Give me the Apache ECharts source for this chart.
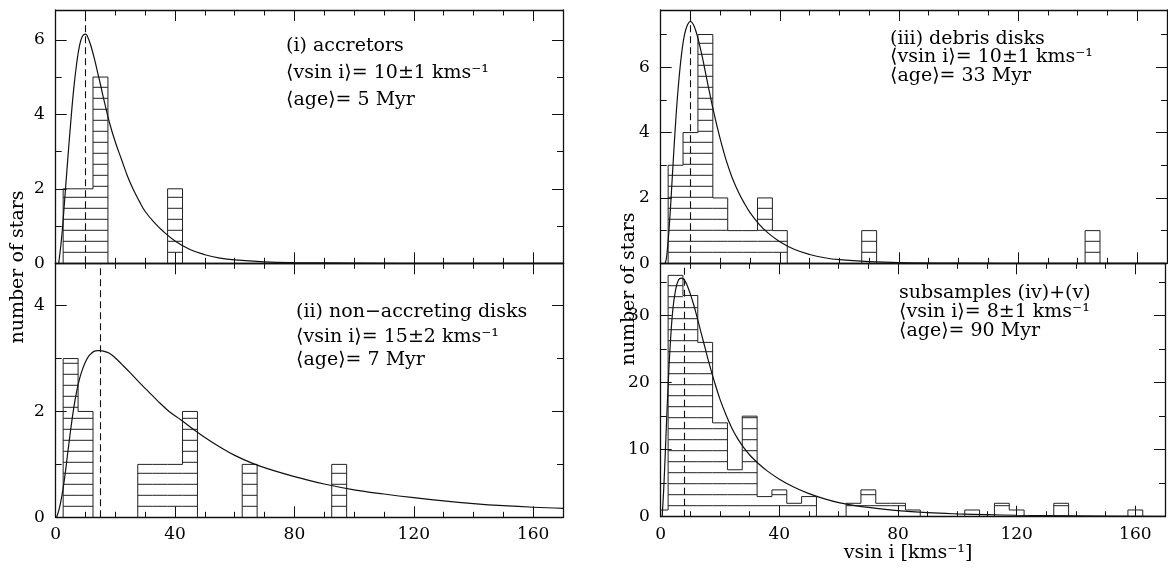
<!DOCTYPE html>
<html>
<head>
<meta charset="utf-8">
<script src="https://cdn.jsdelivr.net/npm/echarts@6/dist/echarts.min.js"></script>
<style>
  html, body { margin: 0; padding: 0; background: #fff; }
  #chart { width: 1168px; height: 569px; }
</style>
</head>
<body>
<div id="chart"></div>
<script>
// Histogram bins (bin centres, km/s) and star counts per bin
const BIN_WIDTH = 5;

const accretorBins = [5, 10, 15, 40];
const accretorCounts = [2, 2, 5, 2];

const nonAccretingBins = [5, 10, 30, 35, 40, 45, 65, 95];
const nonAccretingCounts = [3, 2, 1, 1, 1, 2, 1, 1];

const debrisBins = [5, 10, 15, 20, 25, 30, 35, 40, 70, 145];
const debrisCounts = [3, 4, 7, 2, 1, 1, 2, 1, 1, 1];

const subsampleBins = [0, 5, 10, 15, 20, 25, 30, 35, 40, 45, 50, 65, 70, 75, 80, 85, 105, 115, 120, 135, 160];
const subsampleCounts = [1, 36, 33, 26, 14, 7, 15, 3, 4, 2, 3, 2, 4, 2, 2, 1, 1, 2, 1, 2, 1];

// Fitted distributions: vsin i and expected number of stars
const accretorFitX = [1, 2, 3, 4, 5, 6, 7, 8, 9, 10, 11, 12, 13, 14, 15, 16, 18, 20, 22, 24, 26, 28, 30, 33, 36, 40, 45, 50, 55, 60, 70, 80, 100, 130, 170];
const accretorFitY = [0, 0.7, 1.7, 2.75, 3.75, 4.65, 5.35, 5.85, 6.1, 6.15, 6.02, 5.78, 5.48, 5.14, 4.8, 4.44, 3.78, 3.25, 2.8, 2.35, 1.98, 1.67, 1.39, 1.1, 0.86, 0.6, 0.37, 0.23, 0.14, 0.09, 0.04, 0.02, 0.005, 0, 0];

const nonAccretingFitX = [0.3, 1, 2, 3, 4, 5, 6, 7, 8, 9, 10, 11, 12, 13, 14, 15, 16, 18, 20, 22, 25, 28, 31, 34, 38, 42, 46, 50, 55, 60, 66, 72, 80, 90, 100, 110, 120, 130, 140, 150, 160, 170];
const nonAccretingFitY = [0, 0.12, 0.38, 0.75, 1.2, 1.65, 2.05, 2.37, 2.62, 2.8, 2.94, 3.04, 3.1, 3.14, 3.15, 3.15, 3.14, 3.1, 3.01, 2.9, 2.73, 2.55, 2.38, 2.21, 2.0, 1.84, 1.67, 1.51, 1.33, 1.17, 1.02, 0.9, 0.77, 0.63, 0.52, 0.44, 0.37, 0.31, 0.26, 0.22, 0.19, 0.17];

const debrisFitX = [1.5, 2, 3, 4, 5, 6, 7, 8, 9, 10, 11, 12, 13, 14, 15, 16, 18, 20, 22, 24, 26, 28, 30, 33, 36, 40, 45, 50, 55, 60, 70, 80, 100, 130, 170];
const debrisFitY = [0, 0.2, 1.3, 2.8, 4.3, 5.5, 6.4, 7.0, 7.3, 7.4, 7.3, 7.05, 6.7, 6.3, 5.85, 5.4, 4.55, 3.8, 3.15, 2.62, 2.2, 1.85, 1.55, 1.2, 0.93, 0.66, 0.42, 0.27, 0.17, 0.11, 0.05, 0.02, 0.005, 0, 0];

const subsampleFitX = [0.5, 1, 1.5, 2, 2.5, 3, 4, 5, 6, 7, 8, 9, 10, 11, 12, 13, 14, 15, 16, 18, 20, 22, 24, 26, 28, 30, 33, 36, 40, 45, 50, 55, 60, 65, 70, 80, 90, 100, 110, 120, 140, 170];
const subsampleFitY = [0, 4, 9, 14.5, 19.5, 24, 30.5, 33.8, 35.3, 35.6, 35.3, 34.4, 33.2, 31.8, 30.2, 28.5, 26.8, 25.1, 23.4, 20.3, 17.5, 15.2, 13.2, 11.6, 10.3, 9.2, 7.9, 6.8, 5.6, 4.4, 3.45, 2.7, 2.1, 1.7, 1.38, 0.9, 0.6, 0.42, 0.3, 0.22, 0.13, 0.06];

// Mean vsin i of each sample (dashed markers)
const meanVsini = [10, 15, 10, 8];

// Axis ranges and tick steps
const xMax = 170, xMajor = 40, xMinor = 10;
const yMaxes = [6.8, 4.8, 7.75, 37.8];
const yMajors = [2, 2, 2, 10];
const yMinors = [1, 1, 1, 5];

const SERIF = '"DejaVu Serif", "Liberation Serif", serif';
const INK = '#111';
const HATCH_STEP = 11;

const grids = [
  { left: 55.7, top: 10, width: 507.3, height: 253.3 },
  { left: 55.7, top: 263.3, width: 507.3, height: 254 },
  { left: 660.7, top: 10, width: 506.3, height: 253.3 },
  { left: 660.7, top: 263.3, width: 506.3, height: 253.4 }
];

const xAxes = [];
const yAxes = [];
const majorX = [], majorY = [];

function mkAxis(kind, gridIndex, position, min, max, interval, tickLen, showLine, labelFn) {
  return {
    type: 'value', gridIndex, position, min, max, interval,
    axisLine: { show: showLine, onZero: false, lineStyle: { color: INK, width: 1.3 } },
    axisTick: { show: true, inside: true, length: tickLen, lineStyle: { color: INK, width: 1 } },
    minorTick: { show: false },
    splitLine: { show: false },
    axisLabel: labelFn ? {
      show: true, color: '#000', fontFamily: SERIF, fontSize: 17,
      margin: kind === 'x' ? 9 : 11,
      formatter: labelFn
    } : { show: false }
  };
}

grids.forEach((g, gi) => {
  const showX = gi === 1 || gi === 3;
  const xLab = showX ? (v => (Math.abs(v % xMajor) < 1e-9 ? String(v) : '')) : null;
  const ym = yMajors[gi];
  const yLab = v => (Math.abs(v % ym) < 1e-9 ? String(v) : '');
  majorX.push(xAxes.length);
  xAxes.push(mkAxis('x', gi, 'bottom', 0, xMax, xMajor, 11, true, xLab));
  xAxes.push(mkAxis('x', gi, 'top', 0, xMax, xMajor, 11, true, null));
  xAxes.push(mkAxis('x', gi, 'bottom', 0, xMax, xMinor, 5.5, false, null));
  xAxes.push(mkAxis('x', gi, 'top', 0, xMax, xMinor, 5.5, false, null));
  majorY.push(yAxes.length);
  yAxes.push(mkAxis('y', gi, 'left', 0, yMaxes[gi], ym, 11, true, yLab));
  yAxes.push(mkAxis('y', gi, 'right', 0, yMaxes[gi], ym, 11, true, null));
  yAxes.push(mkAxis('y', gi, 'left', 0, yMaxes[gi], yMinors[gi], 6, false, null));
  yAxes.push(mkAxis('y', gi, 'right', 0, yMaxes[gi], yMinors[gi], 6, false, null));
});

// Hatched step histogram: outline follows the bin tops, rules fill each bin
function histogram(gi, bins, counts) {
  const heightAt = c => {
    const k = bins.indexOf(c);
    return k < 0 ? 0 : counts[k];
  };
  return {
    type: 'custom',
    xAxisIndex: majorX[gi],
    yAxisIndex: majorY[gi],
    clip: true,
    silent: true,
    data: bins.map((c, i) => [
      c - BIN_WIDTH / 2, c + BIN_WIDTH / 2, counts[i],
      heightAt(c - BIN_WIDTH), heightAt(c + BIN_WIDTH)
    ]),
    encode: { x: [0, 1], y: 2 },
    renderItem(params, api) {
      const x0 = api.value(0), x1 = api.value(1), h = api.value(2);
      const hl = api.value(3), hr = api.value(4);
      const base = api.coord([x0, 0]);
      const top = api.coord([x1, h]);
      const stroke = { stroke: '#222', lineWidth: 1 };
      const children = [{
        type: 'line', shape: { x1: base[0], y1: top[1], x2: top[0], y2: top[1] }, style: stroke
      }];
      if (hl < h) {
        const yl = api.coord([x0, hl])[1];
        children.push({ type: 'line', shape: { x1: base[0], y1: top[1], x2: base[0], y2: yl }, style: stroke });
      }
      if (hr < h) {
        const yr = api.coord([x1, hr])[1];
        children.push({ type: 'line', shape: { x1: top[0], y1: top[1], x2: top[0], y2: yr }, style: stroke });
      }
      for (let y = base[1] - HATCH_STEP; y > top[1] + 1.5; y -= HATCH_STEP) {
        children.push({ type: 'line', shape: { x1: base[0], y1: y, x2: top[0], y2: y }, style: stroke });
      }
      return { type: 'group', children };
    }
  };
}

function fitCurve(gi, xs, ys, mean) {
  return {
    type: 'line',
    xAxisIndex: majorX[gi],
    yAxisIndex: majorY[gi],
    data: xs.map((x, i) => [x, ys[i]]),
    showSymbol: false,
    smooth: 0.4,
    clip: true,
    silent: true,
    lineStyle: { color: INK, width: 1.2 },
    markLine: {
      silent: true,
      symbol: ['none', 'none'],
      label: { show: false },
      lineStyle: { color: INK, width: 1.1, type: [7, 4] },
      data: [{ xAxis: mean }]
    },
    z: 3
  };
}

const series = [
  histogram(0, accretorBins, accretorCounts),
  histogram(1, nonAccretingBins, nonAccretingCounts),
  histogram(2, debrisBins, debrisCounts),
  histogram(3, subsampleBins, subsampleCounts),
  fitCurve(0, accretorFitX, accretorFitY, meanVsini[0]),
  fitCurve(1, nonAccretingFitX, nonAccretingFitY, meanVsini[1]),
  fitCurve(2, debrisFitX, debrisFitY, meanVsini[2]),
  fitCurve(3, subsampleFitX, subsampleFitY, meanVsini[3])
];

function label(text, x, y, size) {
  return {
    type: 'text', x, y, silent: true,
    style: { text, fill: '#000', font: (size || 19) + 'px ' + SERIF, textAlign: 'left', textVerticalAlign: 'middle' }
  };
}

// Panel annotations
const notes = [
  ['(i) accretors', 286, 46], ['⟨vsin i⟩= 10±1 kms⁻¹', 286, 73], ['⟨age⟩= 5 Myr', 286, 100],
  ['(ii) non−accreting disks', 296, 312], ['⟨vsin i⟩= 15±2 kms⁻¹', 296, 337], ['⟨age⟩= 7 Myr', 296, 360],
  ['(iii) debris disks', 890, 39], ['⟨vsin i⟩= 10±1 kms⁻¹', 890, 57], ['⟨age⟩= 33 Myr', 890, 76],
  ['subsamples (iv)+(v)', 899, 293], ['⟨vsin i⟩= 8±1 kms⁻¹', 899, 312], ['⟨age⟩= 90 Myr', 899, 331]
];

const graphics = notes.map(n => label(n[0], n[1], n[2]));
graphics.push({
  type: 'text', x: 18, y: 267, rotation: Math.PI / 2, silent: true,
  style: { text: 'number of stars', fill: '#000', font: '19px ' + SERIF, textAlign: 'center', textVerticalAlign: 'middle' }
});
graphics.push({
  type: 'text', x: 629, y: 289, rotation: Math.PI / 2, silent: true,
  style: { text: 'number of stars', fill: '#000', font: '19px ' + SERIF, textAlign: 'center', textVerticalAlign: 'middle' }
});
graphics.push({
  type: 'text', x: 908, y: 553, silent: true,
  style: { text: 'vsin i [kms⁻¹]', fill: '#000', font: '19px ' + SERIF, textAlign: 'center', textVerticalAlign: 'middle' }
});

const chart = echarts.init(document.getElementById('chart'), null, { renderer: 'canvas' });
chart.setOption({
  animation: false,
  backgroundColor: '#fff',
  grid: grids,
  xAxis: xAxes,
  yAxis: yAxes,
  series,
  graphic: graphics
});
</script>
</body>
</html>
